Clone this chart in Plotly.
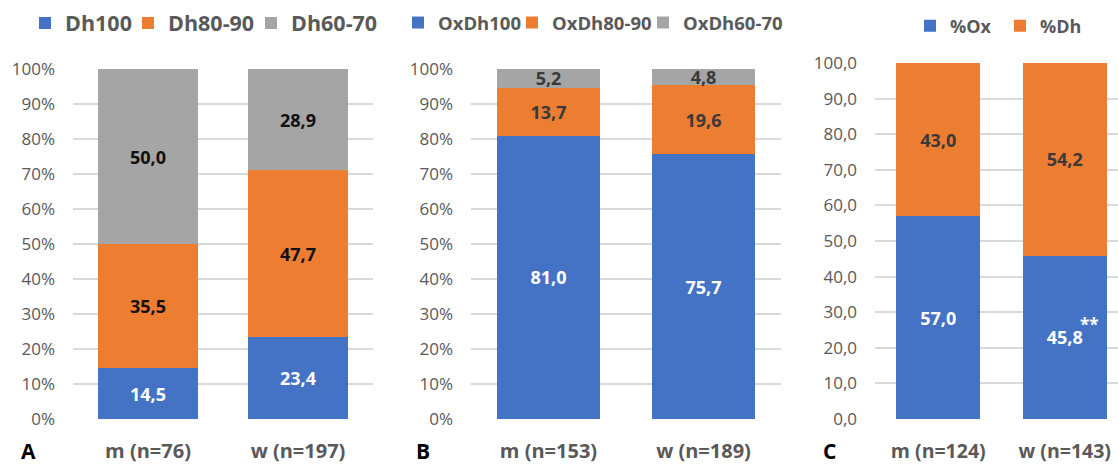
import plotly.graph_objects as go

# ---------------- data ----------------
cats_a = ["m (n=76)", "w (n=197)"]
dh100 = [14.5, 23.4]
dh80_90 = [35.5, 47.7]
dh60_70 = [50.0, 28.9]

cats_b = ["m (n=153)", "w (n=189)"]
oxdh100 = [81.0, 75.7]
oxdh80_90 = [13.7, 19.6]
oxdh60_70 = [5.2, 4.8]

cats_c = ["m (n=124)", "w (n=143)"]
pct_ox = [57.0, 45.8]
pct_dh = [43.0, 54.2]

pct_ticks = [0, 10, 20, 30, 40, 50, 60, 70, 80, 90, 100]
pct_ticktext = [f"{v}%" for v in pct_ticks]
num_ticktext = [f"{v:.1f}".replace(".", ",") for v in pct_ticks]

panel_letters = ["A", "B", "C"]

# ---------------- style ----------------
BLUE = "#4472C4"
ORANGE = "#ED7D31"
GREY = "#A5A5A5"
TXT = "#595959"
FONT = "Open Sans"
W, H = 1118, 466


def fmt(vals):
    return [f"{v:.1f}".replace(".", ",") for v in vals]


def px_x(p):
    return p / W


def px_y(p):
    return 1 - p / H


fig = go.Figure()
legend_defs = {}


def add_bar(x, y, name, color, xa, ya, legend, tcolor, text_left, ly, lsize):
    fig.add_trace(go.Bar(
        x=x, y=y, name=name, marker=dict(color=color, line=dict(width=0)),
        xaxis=xa, yaxis=ya, legend=legend, showlegend=True,
        text=fmt(y), textposition="inside", insidetextanchor="middle",
        textangle=0,
        textfont=dict(family=FONT, size=18, color=tcolor, weight=700),
        hoverinfo="skip",
    ))
    legend_defs[legend] = dict(
        orientation="h", x=px_x(text_left - 37), y=px_y(ly),
        xanchor="left", yanchor="middle",
        font=dict(family=FONT, size=lsize, color=TXT, weight=700),
        bgcolor="rgba(0,0,0,0)", itemwidth=30, visible=True,
    )


add_bar(cats_a, dh100, "Dh100", BLUE, "x", "y", "legend9", "white", 62, 23, 21.5)
add_bar(cats_a, dh80_90, "Dh80-90", ORANGE, "x", "y", "legend2", "#111111", 165, 23, 21.5)
add_bar(cats_a, dh60_70, "Dh60-70", GREY, "x", "y", "legend3", "#111111", 288, 23, 21.5)

add_bar(cats_b, oxdh100, "OxDh100", BLUE, "x2", "y2", "legend4", "white", 435, 23, 18.5)
add_bar(cats_b, oxdh80_90, "OxDh80-90", ORANGE, "x2", "y2", "legend5", "#3a3a3a", 549, 23, 18.5)
add_bar(cats_b, oxdh60_70, "OxDh60-70", GREY, "x2", "y2", "legend6", "#3a3a3a", 680, 23, 18.5)

add_bar(cats_c, pct_ox, "%Ox", BLUE, "x3", "y3", "legend7", "white", 947, 26, 18)
add_bar(cats_c, pct_dh, "%Dh", ORANGE, "x3", "y3", "legend8", "#3a3a3a", 1037, 26, 18)

grid = dict(showgrid=True, gridcolor="#D9D9D9", gridwidth=1.5, zeroline=False,
            showline=False, ticks="", ticklabelstandoff=17,
            tickfont=dict(family=FONT, size=17, color=TXT))
xcommon = dict(showgrid=False, zeroline=False, showline=False, ticks="",
               ticklabelstandoff=18,
               tickfont=dict(family=FONT, size=20, color=TXT, weight=700))

fig.update_layout(
    width=W, height=H,
    margin=dict(l=0, r=0, t=0, b=0, autoexpand=False),
    paper_bgcolor="white", plot_bgcolor="white",
    barmode="stack", bargap=0.333,
    uniformtext=dict(minsize=18, mode="show"),
    xaxis=dict(domain=[px_x(73), px_x(373)], anchor="y", range=[-0.5, 1.5], **xcommon),
    xaxis2=dict(domain=[px_x(471), px_x(781)], anchor="y2", range=[-0.5, 1.5], **xcommon),
    xaxis3=dict(domain=[px_x(875), 1.0], anchor="y3", range=[-0.5, 1.421],
                **{**xcommon, "tickfont": dict(family=FONT, size=19.5, color=TXT, weight=700)}),
    yaxis=dict(domain=[px_y(419), px_y(69)], anchor="x", range=[0, 100],
               tickvals=pct_ticks, ticktext=pct_ticktext, **grid),
    yaxis2=dict(domain=[px_y(419), px_y(69)], anchor="x2", range=[0, 100],
                tickvals=pct_ticks, ticktext=pct_ticktext, **grid),
    yaxis3=dict(domain=[px_y(419), px_y(63)], anchor="x3", range=[0, 100],
                tickvals=pct_ticks, ticktext=num_ticktext, **grid),
    **legend_defs,
)

# panel letters
for letter, xp in zip(panel_letters, [28, 423, 829]):
    fig.add_annotation(x=px_x(xp), y=0, xref="paper", yref="paper",
                       text=letter, showarrow=False, xanchor="center", yanchor="bottom",
                       borderpad=0,
                       font=dict(family=FONT, size=21, color="black", weight=700))

# significance marker on women %Ox bar
fig.add_annotation(x=cats_c[1], y=pct_ox[1] / 2, xref="x3", yref="y3",
                   text="**", showarrow=False, xshift=25, yshift=13,
                   font=dict(family=FONT, size=17, color="white", weight=700))

fig.write_html("out.html",
               config={"displayModeBar": False},
               post_script="document.body.style.margin='0px';document.body.style.overflow='hidden';")
